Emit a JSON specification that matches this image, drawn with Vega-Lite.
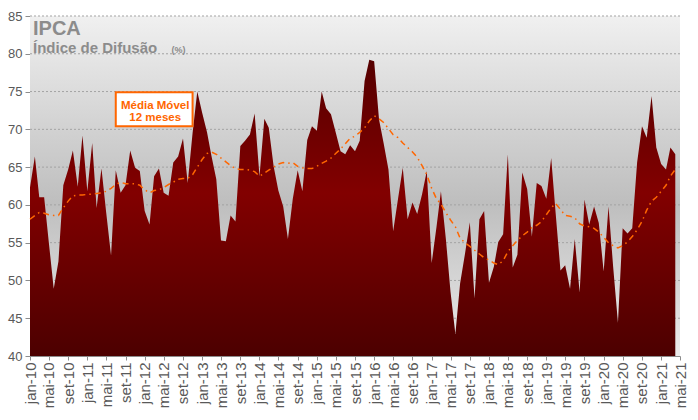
{
  "$schema": "https://vega.github.io/schema/vega-lite/v6.json",
  "width": 650,
  "height": 340,
  "autosize": {"type": "none"},
  "padding": {"left": 30, "top": 16, "right": 18, "bottom": 64},
  "background": "white",
  "config": {"view": {"stroke": null}, "font": "Liberation Sans"},
  "datasets": {
    "ipca": [
      {"d":"2010-01-01","v":62.3,"m":58.1},{"d":"2010-02-01","v":66.4,"m":58.6},{"d":"2010-03-01","v":61.0,"m":59.0},{"d":"2010-04-01","v":61.0,"m":58.9},{"d":"2010-05-01","v":55.0,"m":58.7},{"d":"2010-06-01","v":48.9,"m":58.6},{"d":"2010-07-01","v":52.5,"m":58.6},{"d":"2010-08-01","v":62.6,"m":59.6},{"d":"2010-09-01","v":64.7,"m":60.5},{"d":"2010-10-01","v":67.2,"m":61.2},{"d":"2010-11-01","v":62.4,"m":61.3},{"d":"2010-12-01","v":69.2,"m":61.3},
      {"d":"2011-01-01","v":61.8,"m":61.4},{"d":"2011-02-01","v":68.2,"m":61.4},{"d":"2011-03-01","v":59.6,"m":61.5},{"d":"2011-04-01","v":64.8,"m":61.6},{"d":"2011-05-01","v":59.0,"m":61.8},{"d":"2011-06-01","v":53.3,"m":62.2},{"d":"2011-07-01","v":64.6,"m":62.7},{"d":"2011-08-01","v":61.6,"m":63.0},{"d":"2011-09-01","v":62.6,"m":62.8},{"d":"2011-10-01","v":67.2,"m":62.8},{"d":"2011-11-01","v":64.9,"m":62.8},{"d":"2011-12-01","v":64.5,"m":62.6},
      {"d":"2012-01-01","v":59.2,"m":62.0},{"d":"2012-02-01","v":57.4,"m":61.6},{"d":"2012-03-01","v":63.8,"m":61.9},{"d":"2012-04-01","v":64.8,"m":62.0},{"d":"2012-05-01","v":61.6,"m":62.3},{"d":"2012-06-01","v":61.2,"m":62.7},{"d":"2012-07-01","v":65.6,"m":63.0},{"d":"2012-08-01","v":66.4,"m":63.4},{"d":"2012-09-01","v":68.8,"m":63.5},{"d":"2012-10-01","v":62.9,"m":63.5},{"d":"2012-11-01","v":69.5,"m":64.0},{"d":"2012-12-01","v":75.0,"m":65.0},
      {"d":"2013-01-01","v":72.2,"m":66.0},{"d":"2013-02-01","v":69.6,"m":66.8},{"d":"2013-03-01","v":66.5,"m":67.0},{"d":"2013-04-01","v":63.4,"m":66.7},{"d":"2013-05-01","v":55.3,"m":66.2},{"d":"2013-06-01","v":55.2,"m":65.7},{"d":"2013-07-01","v":58.6,"m":65.2},{"d":"2013-08-01","v":57.8,"m":64.8},{"d":"2013-09-01","v":67.8,"m":64.7},{"d":"2013-10-01","v":68.5,"m":64.7},{"d":"2013-11-01","v":69.3,"m":64.6},{"d":"2013-12-01","v":72.1,"m":64.4},
      {"d":"2014-01-01","v":63.8,"m":63.8},{"d":"2014-02-01","v":71.4,"m":64.2},{"d":"2014-03-01","v":70.2,"m":64.6},{"d":"2014-04-01","v":65.1,"m":65.0},{"d":"2014-05-01","v":61.9,"m":65.4},{"d":"2014-06-01","v":59.8,"m":65.6},{"d":"2014-07-01","v":55.5,"m":65.5},{"d":"2014-08-01","v":60.8,"m":65.6},{"d":"2014-09-01","v":64.6,"m":65.1},{"d":"2014-10-01","v":61.8,"m":64.9},{"d":"2014-11-01","v":68.6,"m":64.8},{"d":"2014-12-01","v":70.4,"m":64.8},
      {"d":"2015-01-01","v":69.8,"m":65.1},{"d":"2015-02-01","v":75.0,"m":65.5},{"d":"2015-03-01","v":72.8,"m":65.8},{"d":"2015-04-01","v":72.0,"m":66.2},{"d":"2015-05-01","v":69.6,"m":66.8},{"d":"2015-06-01","v":67.1,"m":67.4},{"d":"2015-07-01","v":66.7,"m":68.1},{"d":"2015-08-01","v":67.9,"m":68.8},{"d":"2015-09-01","v":67.1,"m":69.1},{"d":"2015-10-01","v":68.5,"m":69.6},{"d":"2015-11-01","v":76.4,"m":70.2},{"d":"2015-12-01","v":79.2,"m":71.1},
      {"d":"2016-01-01","v":79.0,"m":71.8},{"d":"2016-02-01","v":71.3,"m":71.4},{"d":"2016-03-01","v":68.2,"m":70.9},{"d":"2016-04-01","v":64.7,"m":70.1},{"d":"2016-05-01","v":56.5,"m":69.3},{"d":"2016-06-01","v":60.8,"m":68.9},{"d":"2016-07-01","v":64.9,"m":68.2},{"d":"2016-08-01","v":58.1,"m":67.6},{"d":"2016-09-01","v":60.3,"m":67.0},{"d":"2016-10-01","v":58.8,"m":66.3},{"d":"2016-11-01","v":61.4,"m":65.2},{"d":"2016-12-01","v":64.5,"m":64.0},
      {"d":"2017-01-01","v":52.3,"m":62.2},{"d":"2017-02-01","v":57.1,"m":60.8},{"d":"2017-03-01","v":61.8,"m":60.1},{"d":"2017-04-01","v":55.6,"m":59.0},{"d":"2017-05-01","v":48.5,"m":58.0},{"d":"2017-06-01","v":42.9,"m":57.1},{"d":"2017-07-01","v":49.6,"m":55.6},{"d":"2017-08-01","v":53.5,"m":55.0},{"d":"2017-09-01","v":57.7,"m":54.5},{"d":"2017-10-01","v":47.6,"m":54.0},{"d":"2017-11-01","v":58.1,"m":53.5},{"d":"2017-12-01","v":59.2,"m":53.0},
      {"d":"2018-01-01","v":49.7,"m":52.7},{"d":"2018-02-01","v":51.8,"m":52.3},{"d":"2018-03-01","v":55.1,"m":52.1},{"d":"2018-04-01","v":56.1,"m":52.6},{"d":"2018-05-01","v":66.7,"m":53.8},{"d":"2018-06-01","v":51.7,"m":54.6},{"d":"2018-07-01","v":53.4,"m":55.3},{"d":"2018-08-01","v":64.3,"m":55.9},{"d":"2018-09-01","v":62.1,"m":56.4},{"d":"2018-10-01","v":55.8,"m":57.0},{"d":"2018-11-01","v":62.9,"m":57.3},{"d":"2018-12-01","v":62.5,"m":57.8},
      {"d":"2019-01-01","v":60.8,"m":58.7},{"d":"2019-02-01","v":66.2,"m":59.6},{"d":"2019-03-01","v":59.0,"m":60.2},{"d":"2019-04-01","v":51.3,"m":59.4},{"d":"2019-05-01","v":52.0,"m":58.6},{"d":"2019-06-01","v":48.9,"m":58.5},{"d":"2019-07-01","v":55.5,"m":58.3},{"d":"2019-08-01","v":48.4,"m":57.5},{"d":"2019-09-01","v":60.7,"m":57.2},{"d":"2019-10-01","v":57.4,"m":57.1},{"d":"2019-11-01","v":59.8,"m":56.9},{"d":"2019-12-01","v":57.6,"m":56.4},
      {"d":"2020-01-01","v":51.2,"m":55.7},{"d":"2020-02-01","v":59.8,"m":55.0},{"d":"2020-03-01","v":51.9,"m":54.6},{"d":"2020-04-01","v":44.4,"m":54.3},{"d":"2020-05-01","v":56.9,"m":54.6},{"d":"2020-06-01","v":56.2,"m":55.1},{"d":"2020-07-01","v":56.9,"m":55.8},{"d":"2020-08-01","v":65.6,"m":56.7},{"d":"2020-09-01","v":70.4,"m":57.8},{"d":"2020-10-01","v":68.9,"m":59.3},{"d":"2020-11-01","v":74.4,"m":60.5},{"d":"2020-12-01","v":67.6,"m":61.0},
      {"d":"2021-01-01","v":65.4,"m":61.8},{"d":"2021-02-01","v":64.7,"m":62.6},{"d":"2021-03-01","v":67.6,"m":63.8},{"d":"2021-04-01","v":66.7,"m":64.7}
    ],
    "grid": [{"g":45},{"g":50},{"g":55},{"g":60},{"g":65},{"g":70},{"g":75},{"g":80},{"g":85}]
  },
  "layer": [
    {
      "data": {"values": [{}]},
      "mark": {"type": "rect", "color": {"gradient": "linear", "x1": 0, "y1": 0, "x2": 0, "y2": 1, "stops": [{"offset": 0, "color": "#f0f0f0"}, {"offset": 0.55, "color": "#bebebe"}, {"offset": 1, "color": "#ececec"}]}},
      "encoding": {
        "x": {"datum": {"year": 2010, "month": 1, "date": 1, "utc": true}, "type": "temporal",
          "scale": {"type": "utc", "domain": [{"year": 2010, "month": 1, "date": 1, "utc": true}, {"year": 2021, "month": 5, "date": 1, "utc": true}]},
          "axis": {"title": null, "grid": false, "tickCount": {"interval": "month", "step": 4},
            "labelExpr": "['jan','fev','mar','abr','mai','jun','jul','ago','set','out','nov','dez'][utcmonth(datum.value)] + '-' + utcFormat(datum.value, '%y')",
            "labelAngle": -90, "labelFontSize": 15, "labelColor": "#595959", "labelPadding": 2,
            "tickSize": 4, "tickColor": "#8c8c8c", "domainColor": "#8c8c8c",
            "labelOverlap": false, "labelFlush": false, "labelBound": false}},
        "x2": {"datum": {"year": 2021, "month": 5, "date": 1, "utc": true}},
        "y": {"datum": 40, "type": "quantitative",
          "scale": {"domain": [40, 85], "zero": false, "nice": false},
          "axis": {"title": null, "grid": false, "values": [40, 45, 50, 55, 60, 65, 70, 75, 80, 85], "tickCount": 10,
            "labelFontSize": 13, "labelColor": "#595959", "labelPadding": 3, "labelOverlap": false, "labelFlush": false, "labelBound": false,
            "tickSize": 5, "tickColor": "#8c8c8c", "domainColor": "#8c8c8c"}},
        "y2": {"datum": 85}
      }
    },
    {
      "data": {"name": "grid"},
      "mark": {"type": "rule", "color": "#a3a3a3", "strokeDash": [2, 2], "strokeWidth": 1},
      "encoding": {"y": {"field": "g", "type": "quantitative"}}
    },
    {
      "data": {"name": "ipca"},
      "mark": {"type": "area", "clip": true, "color": {"gradient": "linear", "x1": 0, "y1": 0, "x2": 0, "y2": 1, "stops": [{"offset": 0, "color": "#560000"}, {"offset": 0.45, "color": "#820000"}, {"offset": 1, "color": "#4c0000"}]}},
      "encoding": {
        "x": {"field": "d", "type": "temporal"},
        "y": {"field": "v", "type": "quantitative"},
        "y2": {"datum": 40}
      }
    },
    {
      "data": {"name": "ipca"},
      "mark": {"type": "line", "color": "#ff6600", "strokeWidth": 1.5, "strokeDash": [6, 4, 1.5, 4]},
      "encoding": {
        "x": {"field": "d", "type": "temporal"},
        "y": {"field": "m", "type": "quantitative"}
      }
    },
    {
      "data": {"values": [{}]},
      "mark": {"type": "rect", "fill": "white", "stroke": "#ff6600", "strokeWidth": 2},
      "encoding": {
        "x": {"datum": {"year": 2011, "month": 7, "date": 1, "utc": true}, "type": "temporal"},
        "x2": {"datum": {"year": 2012, "month": 11, "date": 1, "utc": true}},
        "y": {"datum": 74.9, "type": "quantitative"},
        "y2": {"datum": 70.4}
      }
    },
    {
      "data": {"values": [{}]},
      "mark": {"type": "text", "text": "Média Móvel", "fontWeight": "bold", "fontSize": 11.5, "color": "#ff6600", "align": "center", "baseline": "alphabetic"},
      "encoding": {
        "x": {"datum": {"year": 2012, "month": 3, "date": 8, "utc": true}, "type": "temporal"},
        "y": {"datum": 72.65, "type": "quantitative"}
      }
    },
    {
      "data": {"values": [{}]},
      "mark": {"type": "text", "text": "12 meses", "fontWeight": "bold", "fontSize": 11.5, "color": "#ff6600", "align": "center", "baseline": "alphabetic"},
      "encoding": {
        "x": {"datum": {"year": 2012, "month": 3, "date": 8, "utc": true}, "type": "temporal"},
        "y": {"datum": 71.1, "type": "quantitative"}
      }
    },
    {
      "data": {"values": [{}]},
      "mark": {"type": "text", "text": "IPCA", "fontWeight": "bold", "fontSize": 20, "color": "#8c8c8c", "align": "left", "baseline": "alphabetic"},
      "encoding": {
        "x": {"datum": {"year": 2010, "month": 1, "date": 20, "utc": true}, "type": "temporal"},
        "y": {"datum": 82.5, "type": "quantitative"}
      }
    },
    {
      "data": {"values": [{}]},
      "mark": {"type": "text", "text": "Índice de Difusão", "fontWeight": "bold", "fontSize": 15, "color": "#8c8c8c", "align": "left", "baseline": "alphabetic"},
      "encoding": {
        "x": {"datum": {"year": 2010, "month": 1, "date": 20, "utc": true}, "type": "temporal"},
        "y": {"datum": 80.1, "type": "quantitative"}
      }
    },
    {
      "data": {"values": [{}]},
      "mark": {"type": "text", "text": "(%)", "fontWeight": "bold", "fontSize": 9, "color": "#8c8c8c", "align": "left", "baseline": "alphabetic"},
      "encoding": {
        "x": {"datum": {"year": 2012, "month": 6, "date": 20, "utc": true}, "type": "temporal"},
        "y": {"datum": 80.1, "type": "quantitative"}
      }
    }
  ]
}
